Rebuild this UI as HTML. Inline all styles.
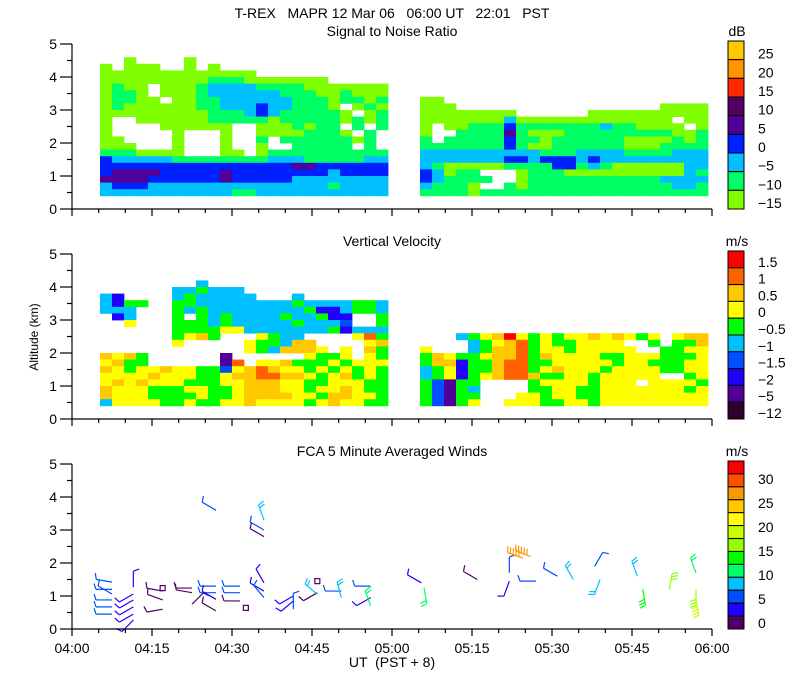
<!DOCTYPE html>
<html><head><meta charset="utf-8">
<style>
html,body{margin:0;padding:0;background:#fff;}
svg{display:block;font-family:"Liberation Sans",sans-serif;}
</style></head>
<body>
<svg id="chart" width="800" height="700" viewBox="0 0 800 700" xmlns="http://www.w3.org/2000/svg">
<text x="392" y="18" font-size="14" text-anchor="middle" xml:space="preserve">T-REX   MAPR 12 Mar 06   06:00 UT   22:01   PST</text>
<text x="392" y="36" font-size="14" text-anchor="middle">Signal to Noise Ratio</text>
<text x="392" y="246" font-size="14" text-anchor="middle">Vertical Velocity</text>
<text x="392" y="456" font-size="14" text-anchor="middle">FCA 5 Minute Averaged Winds</text>
<text x="0" y="0" font-size="12" text-anchor="middle" transform="translate(38,337) rotate(-90)">Altitude (km)</text>
<text x="392" y="667" font-size="14" text-anchor="middle" xml:space="preserve">UT  (PST + 8)</text>
<g id="layer"></g>
</svg>
<script>
// ---------- data ----------
const xTickLabels = ["04:00","04:15","04:30","04:45","05:00","05:15","05:30","05:45","06:00"];
const yTickLabels = ["0","1","2","3","4","5"];
const snrBarLabels = ["25","20","15","10","5","0","\u22125","\u221210","\u221215"];
const snrBarColors = ["#ffc800","#ff9600","#ff2800","#500060","#500098","#0020ff","#00c0ff","#00ff64","#80ff00"];
const vvBarLabels = ["1.5","1","0.5","0","\u22120.5","\u22121","\u22121.5","\u22122","\u22125","\u221212"];
const vvBarColors = ["#ff0000","#ff6000","#ffc800","#ffff00","#00ff00","#00c0ff","#0050ff","#2000ff","#500098","#300030"];
const windBarLabels = ["30","25","20","15","10","5","0"];
const windBarColors = ["#ff0000","#ff5000","#ff9600","#ffc800","#ffff00","#c8ff00","#96ff00","#00ff00","#00ff64","#00c0ff","#0050ff","#2000ff","#500064"];

const snrLeft = [
"..a....a................",
"a.aaa..a.a..............",
"aaaaaaaaaaaaa...........",
"aaaaaaaaabbbaaaaaaa.....",
"abaa.aaabccccbbbbaaaaaaa",
"abba.aaabccccccbbbaabaaa",
"abbaa.aabbccccccbbbabbab",
"abaaaaaabbcccdccbbba.aba",
"aaaaaaaaabbbcdcbbbbba.ab",
"a..aaaaaabbbbbabbbbbabab",
"a....aaaaaa..aaababb.b.b",
"a.....a...a..aaaabbba.b.",
"aa....a...a..b.bbbbbbab.",
"aaa...a...a..a..bbbbb.b.",
"bbbaaaa...aa.abbbbbbbbbb",
"dcccccbbbbbbbbcccbbbbbcc",
"ddddddddddddddddeedddddd",
"deeeedddddeddddddddcdddd",
"eeeeddddddedddddcccccccc",
"cdddcccccccccccccccbcccc",
"cccccccccccbbccccccccccc"];
const snrRight = [
"........................",
"........................",
"........................",
"........................",
"........................",
"........................",
"aa......................",
"aaa.................aaaa",
"aaaaaaaa......aaaaaaaaaa",
"aaaaaaacaaaaaaaaaaaaa.aa",
"a.aabbbdbbbbbbbcbbaaaa.a",
"a..bbbbebaaabbbbbbbbbaab",
"b.bbbbbdbbabbbbbbaaaabab",
"bbbbbbbdbaabbbbbbaaabbbb",
"ccccccccccbbbccccbbbbccc",
"cccccccddcdddcdccccccccc",
"cbaaaaabbbbddbcbaaaaaacc",
"dcabb...abbbaaaaaaaaaacb",
"dcbbbb..abbbbbbbbbbbcccc",
"cbbba..babbbbbbbbbbbbccb",
"bbbbabbbbbbbbbbbbbbbbbbb"];
const snrKey = "fedcba";
const vvLeft = [
"........................",
"........................",
"........s...............",
"......ssgsss............",
"sv....sgsssss...s.......",
"svgg..ggssssssssgssssggs",
"sss...gsgssssssssgvvsggs",
".vs...g.gsgssssgssgvv..g",
"..y...gggsgsssssgsssb..g",
"......ggggyysssssssgvsss",
"......gyog...ygss....yrg",
"......y.....yggsoo....yo",
"............ygsoooy.y.og",
"oyog......p......yggy.yg",
"yogg......pr.yyogggygyyy",
"oygyyoyyggbyoroyygygygyg",
"yyyyoyyyggyoorrooygyogyg",
"yoyoyyygggyyoooyyggyyygg",
"oyyygggyyggyoooyygyyoygg",
"oyyyggggyggyooooyygooyyg",
"syyyyggyggyyoyyyygyoyygg"];
const vvRight = [
"........................",
"........................",
"........................",
"........................",
"........................",
"........................",
"........................",
"........................",
"........................",
"........................",
"...sgyoRygygyyoyoygy.yoo",
"....sgyorgyggyyyy..g.ggo",
"y...sgoorgyygyyyyy..ggyy",
"goyggyoorgoyyyyggyyygggy",
"goovggorrggyyyyygyygggyy",
"sgyvggorrgyoyyygyyyyggyy",
"sgyvgyorroggyygyyyyy..gy",
"gbpgg....gyyyygyyy.yyyyg",
"gbpgs....ggyyggyyyyyyygy",
"gbpgg...yygyyggyyyyyyyyy",
"gbpgy..yyyggyygyyyyyyyyy"];
const vvKey = "Rroygsbvpk";

const barbTime = [7.5,7.5,7.5,7.5,7.5,7.5, 11.5,11.5,11.5,11.5,11.5,11.5, 17,17,17,17, 22.5,22.5,22.5, 27,27,27,27, 31.5,31.5,31.5,32.6, 36,36,36, 41.5,41.5,41.5, 46,46,46, 50.5,50.5, 56,56,56, 27,36,36,36, 65.5,66,76,82,82,84.5,86,87,91,94,98,99,106,107,112,117,117,117];
const barbAlt = [1.42,1.2,1.06,0.88,0.67,0.45, 1.27,1.06,0.88,0.67,0.45,0.27, 1.24,1.15,0.88,0.6, 1.24,1.1,0.75, 1.3,1.1,0.9,0.55, 1.3,1.1,0.85,0.64, 1.4,1.15,0.95, 1.0,0.85,0.6, 1.45,1.1,1.05, 1.15,0.95, 1.3,0.95,0.7, 3.6,3.3,3.0,2.8, 1.4,1.25,1.5,1.7,1.45,2.15,2.2,1.45,1.6,1.5,1.9,1.5,1.6,1.2,1.2,1.7,1.2,0.9];
const barbSpd = [7,7,6,7,7,7, 4,4,4,4,4,4, 0,2,2,2, 1,2,2, 5,6,3,2, 5,5,2,0, 4,3,6, 4,3,5, 0,2,8, 5,8, 5,4,12, 5,8,5,2, 4,11,1,5,4,26,25,5,5,8,5,8,9,14,17,12,17,18];
const barbDir = [280,270,300,270,270,270, 0,240,240,240,240,225, 0,280,290,260, 270,280,45, 270,270,300,300, 270,270,270,0, 330,300,320, 240,230,0, 0,240,310, 270,345, 270,240,340, 300,340,300,300, 300,170,300,0,200,290,290,270,300,330,30,200,340,170,10,340,180,170];

const NS = "http://www.w3.org/2000/svg";
const layer = document.getElementById("layer");
const PX0 = 72, PX1 = 712, KM = 33;
const panelBase = [209, 419, 629];
function xOf(min){ return PX0 + min * (PX1 - PX0) / 120; }
function yOf(p, km){ return panelBase[p] - km * KM; }
function mk(tag, attrs){ const e = document.createElementNS(NS, tag); for (const k in attrs) e.setAttribute(k, attrs[k]); layer.appendChild(e); return e; }

function drawGrid(p, rows, key, colors, colorOffset, x0, name){
  const cw = 12;
  rows.forEach((row, r) => {
    const altTop = 4.6 - 0.2 * r;
    for (let c = 0; c < 24; c++){
      const ch = row[c] || ".";
      const idx = key.indexOf(ch);
      if (idx < 0) continue;
      const y1 = yOf(p, altTop), y2 = yOf(p, altTop - 0.2);
      const e = mk("rect", {x: x0 + c*cw, y: y1, width: cw + 0.4, height: (y2 - y1) + 0.4, fill: colors[idx + colorOffset]});
      
      
    }
  });
}
drawGrid(0, snrLeft, snrKey, snrBarColors, 3, 100, "snr");
drawGrid(0, snrRight, snrKey, snrBarColors, 3, 420, "snr");
drawGrid(1, vvLeft, vvKey, vvBarColors, 0, 100, "vv");
drawGrid(1, vvRight, vvKey, vvBarColors, 0, 420, "vv");

function speedColor(s){ let i = Math.floor(s / 2.5); if (i > 12) i = 12; return windBarColors[12 - i]; }
barbTime.forEach((t, i) => {
  const bx = xOf(t), by = yOf(2, barbAlt[i]), s = barbSpd[i], col = speedColor(s);
  if (s < 1){
    const q = mk("rect", {x: bx-2.5, y: by-2.5, width: 5, height: 5, fill: "none", stroke: col, "stroke-width": 1.2});
    
    
    return;
  }
  const th = barbDir[i] * Math.PI / 180, dx = Math.sin(th), dy = -Math.cos(th);
  const ex = bx + 16*dx, ey = by + 16*dy;
  let d = `M${bx},${by}L${ex},${ey}`;
  const fx = Math.cos(th), fy = Math.sin(th);
  let n = Math.max(1, Math.round(s / 5));
  for (let k = 0; k < n && k < 6; k++){
    const px = ex - k*3*dx, py = ey - k*3*dy;
    d += `M${px},${py}L${px + 6*fx + 2*dx},${py + 6*fy + 2*dy}`;
  }
  const b = mk("path", {d: d, stroke: col, "stroke-width": 1.2, fill: "none"});
  
  
});

for (let p = 0; p < 3; p++){
  const base = panelBase[p];
  const ax = mk("path", {d: `M${PX0},${yOf(p,5)}L${PX0},${base}L${PX1},${base}`, stroke: "#000", "stroke-width": 1.2, fill: "none"});
  
  
  for (let k = 0; k <= 10; k++){
    const y = yOf(p, k*0.5), len = k % 2 === 0 ? 12 : 5;
    const tk = mk("line", {x1: PX0-len, y1: y, x2: PX0, y2: y, stroke: "#000", "stroke-width": 1.2});
    
    
  }
  yTickLabels.forEach((lab, k) => {
    const tl = mk("text", {x: 57, y: yOf(p, k) + 5, "font-size": 14, "text-anchor": "end"});
    tl.textContent = lab;
    
    
  });
  for (let m = 0; m <= 120; m += 5){
    const x = xOf(m), len = m % 15 === 0 ? 7 : 4;
    const tk = mk("line", {x1: x, y1: base, x2: x, y2: base + len, stroke: "#000", "stroke-width": 1.2});
    
    
  }
}
xTickLabels.forEach((lab, k) => {
  const tl = mk("text", {x: xOf(k*15), y: 653, "font-size": 14, "text-anchor": "middle"});
  tl.textContent = lab;
  
  
});

function colorbar(top, bottom, colors, labels, unit, name){
  const h = (bottom - top) / colors.length;
  colors.forEach((c, i) => {
    const r = mk("rect", {x: 728, y: top + i*h, width: 16, height: h, fill: c, stroke: "#000", "stroke-width": 1});
    
    
  });
  const step = (bottom - top) / labels.length;
  labels.forEach((lab, i) => {
    const t = mk("text", {x: 758, y: top + (i+1)*step - 1, "font-size": 14});
    t.textContent = lab;
    
    
  });
  const u = mk("text", {x: 737, y: top - 5, "font-size": 14, "text-anchor": "middle"});
  u.textContent = unit;
  
  
}
colorbar(41, 209, snrBarColors, snrBarLabels, "dB", "snr-colorbar");
colorbar(251, 419, vvBarColors, vvBarLabels, "m/s", "vv-colorbar");
colorbar(461, 629, windBarColors, windBarLabels, "m/s", "wind-colorbar");
</script>
</body></html>
